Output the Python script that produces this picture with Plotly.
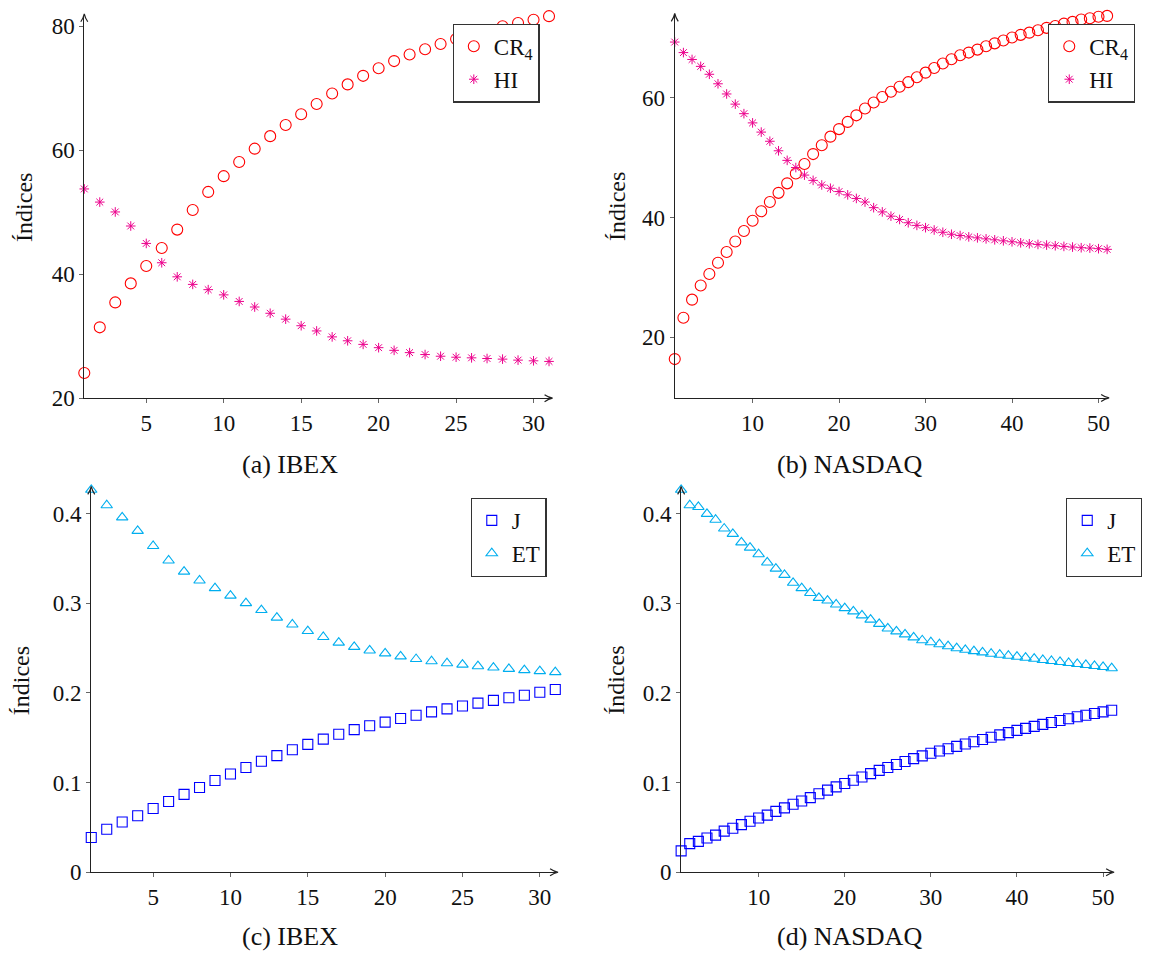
import plotly.graph_objects as go

# ---- data -----------------------------------------------------------------
n_ibex = list(range(1, 32))
n_nasdaq = list(range(1, 52))

cr4_ibex = [24.07, 31.43, 35.45, 38.52, 41.32, 44.23, 47.20, 50.37, 53.28, 55.82,
            58.10, 60.26, 62.28, 64.07, 65.82, 67.46, 69.15, 70.63, 72.01, 73.23,
            74.39, 75.45, 76.30, 77.14, 77.94, 78.70, 79.40, 80.00, 80.53, 81.06, 81.64]
hi_ibex = [53.76, 51.64, 50.05, 47.78, 44.97, 41.85, 39.58, 38.36, 37.51, 36.67,
           35.61, 34.71, 33.70, 32.75, 31.69, 30.85, 29.89, 29.26, 28.68, 28.15,
           27.72, 27.35, 27.04, 26.77, 26.61, 26.51, 26.40, 26.30, 26.14, 26.03, 25.93]

cr4_nasdaq = [16.38, 23.29, 26.31, 28.67, 30.59, 32.46, 34.27, 36.02, 37.78, 39.48,
              41.07, 42.61, 44.14, 45.73, 47.38, 48.97, 50.62, 52.10, 53.53, 54.79,
              55.99, 57.09, 58.24, 59.23, 60.16, 61.04, 61.87, 62.63, 63.46, 64.22,
              64.99, 65.76, 66.47, 67.13, 67.57, 68.07, 68.62, 69.11, 69.60, 70.10,
              70.53, 70.90, 71.30, 71.70, 72.00, 72.40, 72.70, 73.10, 73.30, 73.55, 73.70]
hi_nasdaq = [69.33, 67.57, 66.42, 65.27, 63.95, 62.36, 60.66, 58.96, 57.37, 55.83,
             54.29, 52.76, 51.17, 49.57, 48.37, 47.11, 46.23, 45.46, 44.91, 44.36,
             43.81, 43.21, 42.61, 41.67, 40.96, 40.25, 39.70, 39.15, 38.71, 38.33,
             37.94, 37.56, 37.23, 37.01, 36.79, 36.63, 36.46, 36.30, 36.13, 35.97,
             35.80, 35.64, 35.53, 35.42, 35.31, 35.20, 35.09, 34.98, 34.92, 34.82, 34.71]

j_ibex = [0.0388, 0.0480, 0.0560, 0.0630, 0.0711, 0.0788, 0.0868, 0.0945, 0.1022, 0.1095,
          0.1168, 0.1238, 0.1300, 0.1366, 0.1425, 0.1484, 0.1538, 0.1590, 0.1634, 0.1674,
          0.1714, 0.1751, 0.1788, 0.1821, 0.1853, 0.1886, 0.1916, 0.1945, 0.1974, 0.2007, 0.2037]
et_ibex = [0.4264, 0.4092, 0.3956, 0.3806, 0.3637, 0.3476, 0.3352, 0.3253, 0.3168, 0.3084,
           0.3000, 0.2923, 0.2839, 0.2762, 0.2689, 0.2623, 0.2560, 0.2513, 0.2473, 0.2440,
           0.2407, 0.2377, 0.2352, 0.2330, 0.2315, 0.2297, 0.2282, 0.2267, 0.2253, 0.2242, 0.2231]

j_nasdaq = [0.0238, 0.0319, 0.0344, 0.0381, 0.0414, 0.0458, 0.0491, 0.0531, 0.0568, 0.0604,
            0.0637, 0.0678, 0.0718, 0.0758, 0.0795, 0.0832, 0.0875, 0.0916, 0.0952, 0.0989,
            0.1026, 0.1062, 0.1099, 0.1136, 0.1168, 0.1201, 0.1234, 0.1267, 0.1297, 0.1326,
            0.1352, 0.1377, 0.1403, 0.1429, 0.1454, 0.1480, 0.1505, 0.1531, 0.1557, 0.1582,
            0.1604, 0.1626, 0.1648, 0.1670, 0.1692, 0.1711, 0.1733, 0.1751, 0.1769, 0.1788, 0.1806]
et_nasdaq = [0.4264, 0.4092, 0.4073, 0.3996, 0.3930, 0.3832, 0.3773, 0.3678, 0.3619, 0.3546,
             0.3454, 0.3385, 0.3315, 0.3227, 0.3168, 0.3114, 0.3059, 0.3029, 0.2985, 0.2945,
             0.2908, 0.2864, 0.2817, 0.2769, 0.2718, 0.2685, 0.2652, 0.2619, 0.2586, 0.2564,
             0.2542, 0.2520, 0.2498, 0.2480, 0.2465, 0.2451, 0.2436, 0.2425, 0.2414, 0.2403,
             0.2392, 0.2381, 0.2366, 0.2355, 0.2344, 0.2333, 0.2322, 0.2311, 0.2300, 0.2289, 0.2275]

xticks_ibex = [5, 10, 15, 20, 25, 30]
xticks_nasdaq = [10, 20, 30, 40, 50]
yticks_a = [20, 40, 60, 80]
yticks_b = [20, 40, 60]
yticks_cd = [0, 0.1, 0.2, 0.3, 0.4]
yticktext_cd = ["0", "0.1", "0.2", "0.3", "0.4"]

captions = ["(a) IBEX", "(b) NASDAQ", "(c) IBEX", "(d) NASDAQ"]
ylabel = "Índices"

# ---- styling ----------------------------------------------------------------
W, H = 1163, 969
FONT = "Liberation Serif"
RED = "#ff0000"
MAGENTA = "#ec008c"
BLUE = "#0000ff"
CYAN = "#00aeef"
AXIS = "#222222"
TXT = "#111111"


def px_x(p):
    return p / W


def px_y(p):
    return (H - p) / H


# panel boxes in pixels: (left, right, top, bottom)
boxes = {
    1: (84.5, 552.0, 15.0, 403.0),
    2: (676.5, 1110.0, 14.5, 402.7),
    3: (91.5, 557.5, 494.5, 884.0),
    4: (682.9, 1115.0, 494.5, 884.0),
}
xranges = {1: [1, 31.1], 2: [1, 51.0], 3: [1, 31.05], 4: [1, 51.05]}
yranges = {1: [20, 81.7], 2: [9.9, 73.8], 3: [0, 0.428], 4: [0, 0.428]}

fig = go.Figure()


def add_series(k, x, y, name, symbol, color, size, legend, lw=1.1):
    sfx = "" if k == 1 else str(k)
    fig.add_trace(go.Scatter(
        x=x, y=y, name=name, mode="markers", cliponaxis=False,
        xaxis="x" + sfx, yaxis="y" + sfx, legend=legend,
        marker=dict(symbol=symbol, size=size, color=color,
                    line=dict(color=color, width=lw)),
    ))


add_series(1, n_ibex, cr4_ibex, "CR<sub>4</sub>", "circle-open", RED, 11, "legend")
add_series(1, n_ibex, hi_ibex, "HI", "asterisk-open", MAGENTA, 8, "legend", 1.0)
add_series(2, n_nasdaq, cr4_nasdaq, "CR<sub>4</sub>", "circle-open", RED, 11, "legend2")
add_series(2, n_nasdaq, hi_nasdaq, "HI", "asterisk-open", MAGENTA, 8, "legend2", 1.0)
add_series(3, n_ibex, j_ibex, "J", "square-open", BLUE, 10, "legend3")
add_series(3, n_ibex, et_ibex, "ET", "triangle-up-open", CYAN, 10, "legend3")
add_series(4, n_nasdaq, j_nasdaq, "J", "square-open", BLUE, 10, "legend4")
add_series(4, n_nasdaq, et_nasdaq, "ET", "triangle-up-open", CYAN, 10, "legend4")

xtick_sets = {1: xticks_ibex, 2: xticks_nasdaq, 3: xticks_ibex, 4: xticks_nasdaq}
ytick_sets = {1: (yticks_a, [str(v) for v in yticks_a]),
              2: (yticks_b, [str(v) for v in yticks_b]),
              3: (yticks_cd, yticktext_cd),
              4: (yticks_cd, yticktext_cd)}

layout = {}
annotations = []
shapes = []
for k, (l, r, t, b) in boxes.items():
    sfx = "" if k == 1 else str(k)
    layout["xaxis" + sfx] = dict(
        domain=[px_x(l), px_x(r)], anchor="y" + sfx, range=xranges[k],
        showgrid=False, zeroline=False, showline=True, linecolor=AXIS, linewidth=1.1,
        ticks="outside", ticklen=4, tickcolor="#666666", tickwidth=1,
        tickvals=xtick_sets[k], ticktext=[str(v) for v in xtick_sets[k]],
        tickfont=dict(family=FONT, size=23, color=TXT),
    )
    tv, tt = ytick_sets[k]
    layout["yaxis" + sfx] = dict(
        domain=[px_y(b), px_y(t)], anchor="x" + sfx, range=yranges[k],
        showgrid=False, zeroline=False, showline=True, linecolor=AXIS, linewidth=1.1,
        ticks="outside", ticklen=4, tickcolor="#666666", tickwidth=1,
        tickvals=tv, ticktext=tt,
        tickfont=dict(family=FONT, size=23, color=TXT),
    )
    # arrow heads at the ends of both axis lines
    shapes.append(dict(
        type="path", xref="x%s domain" % sfx, yref="y%s domain" % sfx,
        xsizemode="pixel", ysizemode="pixel", xanchor=1.0, yanchor=0.0,
        path="M -6,3.5 Q -2,0.8 2,0 Q -2,-0.8 -6,-3.5",
        line=dict(color=AXIS, width=1.2)))
    shapes.append(dict(
        type="path", xref="x%s domain" % sfx, yref="y%s domain" % sfx,
        xsizemode="pixel", ysizemode="pixel", xanchor=0.0, yanchor=1.0,
        path="M -3.5,-6 Q -0.8,-2 0,2 Q 0.8,-2 3.5,-6",
        line=dict(color=AXIS, width=1.2)))

# y-axis titles
for k, xc in {1: 24, 2: 618, 3: 21, 4: 618}.items():
    l, r, t, b = boxes[k]
    annotations.append(dict(
        xref="paper", yref="paper", x=px_x(xc), y=px_y((t + b) / 2),
        text=ylabel, textangle=-90, showarrow=False, xanchor="center", yanchor="middle",
        font=dict(family=FONT, size=24, color=TXT)))

# sub-figure captions
for cap, (xc, yc) in zip(captions, [(291, 470), (852, 470), (291, 949), (852, 949)]):
    annotations.append(dict(
        xref="paper", yref="paper", x=px_x(xc), y=px_y(yc), text=cap,
        showarrow=False, xanchor="center", yanchor="middle",
        font=dict(family=FONT, size=26, color=TXT)))

legend_style = dict(bgcolor="white", bordercolor="#333333", borderwidth=1.2,
                    font=dict(family=FONT, size=23, color=TXT),
                    xanchor="right", yanchor="top", itemwidth=30, tracegroupgap=0)
layout["legend"] = dict(legend_style, x=px_x(541), y=px_y(23))
layout["legend2"] = dict(legend_style, x=px_x(1138), y=px_y(23))
layout["legend3"] = dict(legend_style, x=px_x(548), y=px_y(504))
layout["legend4"] = dict(legend_style, x=px_x(1145), y=px_y(504))

fig.update_layout(
    width=W, height=H, margin=dict(l=0, r=0, t=0, b=0),
    paper_bgcolor="white", plot_bgcolor="white",
    annotations=annotations, shapes=shapes, showlegend=True,
    **layout,
)

fig.write_html("out.html")
